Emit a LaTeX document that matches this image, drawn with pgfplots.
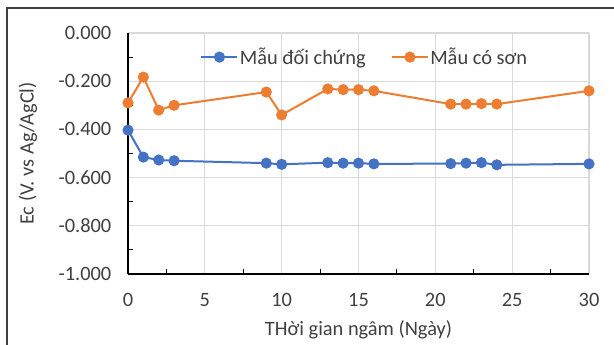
\documentclass[border=0pt]{standalone}
\usepackage{fontspec}
\setmainfont{Carlito}
\usepackage{pgfplots}
\pgfplotsset{compat=1.18}
\definecolor{ctrl}{HTML}{4472C4}
\definecolor{paint}{HTML}{ED7D31}
\definecolor{gridgray}{HTML}{D9D9D9}
\definecolor{txt}{HTML}{404040}
\newcommand{\lblfont}{\fontsize{15.3}{18}\selectfont}

\begin{document}
\begin{tikzpicture}
\useasboundingbox (0,0) rectangle (460.5pt,-258pt);
\begin{scope}
  \clip (0,0) rectangle (460.5pt,-258pt);
  \draw[line width=1pt, black!75] (5.25pt,-6pt) rectangle (480pt,-280pt);
\end{scope}
\begin{axis}[
  at={(96pt,-205.5pt)}, anchor=south west,
  scale only axis, width=345.75pt, height=180.75pt,
  xmin=0, xmax=30, ymin=-1, ymax=0,
  axis lines*=left,
  axis line style={black, line width=1pt},
  xtick={0,5,10,15,20,25,30},
  ytick={-1,-0.8,-0.6,-0.4,-0.2,0},
  minor x tick num=1, minor y tick num=1,
  tick align=inside,
  major tick length=0pt, minor tick length=4pt,
  tick style={black, line width=0.8pt},
  grid=major,
  major grid style={gridgray, line width=0.8pt},
  /pgf/number format/assume math mode=true,
  yticklabel style={/pgf/number format/fixed, /pgf/number format/fixed zerofill, /pgf/number format/precision=3},
  tick label style={font=\lblfont, text=txt},
  xticklabel style={yshift=-11pt},
  yticklabel style={xshift=-9pt},
  xlabel={THời gian ngâm (Ngày)},
  ylabel={Ec (V. vs Ag/AgCl)},
  label style={font=\lblfont, text=txt},
  xlabel style={at={(axis description cs:0.5,-0.232)}, anchor=center},
  ylabel style={at={(axis description cs:-0.217,0.5)}, anchor=center, rotate=0},
  legend columns=2,
  legend style={at={(axis description cs:0.513,0.9)}, anchor=center, draw=none, fill=none,
    font=\lblfont, text=txt, inner sep=0pt,
    /tikz/every even column/.append style={column sep=18pt},
    nodes={inner sep=1pt}},
  legend image code/.code={\draw[mark repeat=2,mark phase=2] plot coordinates {(0pt,0pt) (13.5pt,0pt) (27pt,0pt)};},
  every axis plot/.append style={line width=1.5pt, mark=*, mark size=3.4pt},
]
\addplot[color=ctrl, mark options={fill=ctrl, draw=ctrl}] coordinates {
  (0,-0.403) (1,-0.515) (2,-0.527) (3,-0.530) (9,-0.540) (10,-0.545)
  (13,-0.538) (14,-0.540) (15,-0.540) (16,-0.543) (21,-0.542) (22,-0.540)
  (23,-0.538) (24,-0.547) (30,-0.543)
};
\addlegendentry{Mẫu đối chứng}
\addplot[color=paint, mark options={fill=paint, draw=paint}] coordinates {
  (0,-0.290) (1,-0.183) (2,-0.320) (3,-0.300) (9,-0.245) (10,-0.340)
  (13,-0.232) (14,-0.235) (15,-0.235) (16,-0.240) (21,-0.295) (22,-0.295)
  (23,-0.293) (24,-0.295) (30,-0.240)
};
\addlegendentry{Mẫu có sơn}
\end{axis}
\end{tikzpicture}
\end{document}
